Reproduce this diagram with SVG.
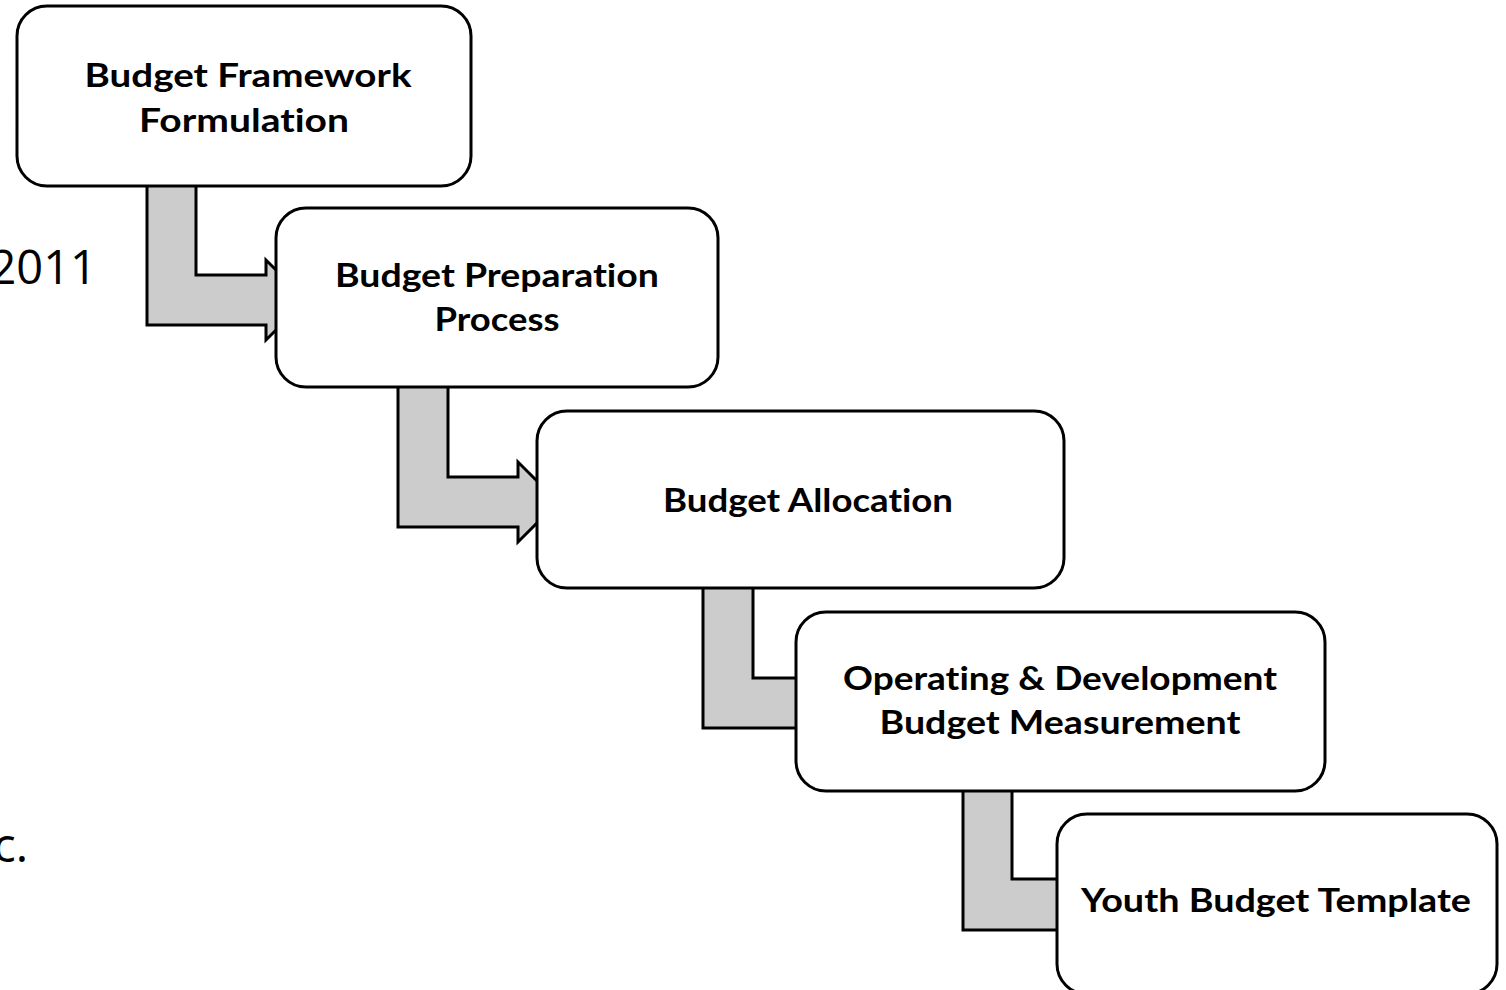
<svg xmlns="http://www.w3.org/2000/svg" width="1506" height="990" viewBox="0 0 1506 990">
<style>
.box{fill:#ffffff;stroke:#000000;stroke-width:3}
.arr{fill:#cccccc;stroke:#000000;stroke-width:3;stroke-linejoin:miter}
.lbl{font-family:Lato,"Open Sans","Liberation Sans",sans-serif;font-weight:bold;font-size:33px;fill:#000000;text-anchor:middle;font-variant-ligatures:none;font-feature-settings:"liga" 0,"dlig" 0}
.side{font-family:"Open Sans",Lato,"Liberation Sans",sans-serif;font-size:47px;fill:#000000;text-anchor:end}
</style>
<rect width="1506" height="990" fill="#ffffff"/>
<g id="side-text">
<text class="side" x="97" y="284">2011</text>
<text class="side" x="28" y="862">c.</text>
</g>
<g id="connectors">
<path class="arr" d="M147,180 V325 H266 V340 L306,300 L266,260 V275 H196 V180 Z"/>
<path class="arr" d="M398,380 V527 H518 V542 L558,502 L518,462 V477 H448 V380 Z"/>
<path class="arr" d="M703,582 V728 H810 V678 H753 V582 Z"/>
<path class="arr" d="M963,785 V930 H1070 V879 H1012 V785 Z"/>
</g>
<g id="node1">
<rect class="box" x="17" y="6" width="454" height="180" rx="30"/>
<text class="lbl" x="248" y="87" textLength="327" lengthAdjust="spacingAndGlyphs">Budget Framework</text>
<text class="lbl" x="244" y="132" textLength="210" lengthAdjust="spacingAndGlyphs">Formulation</text>
</g>
<g id="node2">
<rect class="box" x="276" y="208" width="442" height="179" rx="30"/>
<text class="lbl" x="497" y="287" textLength="324" lengthAdjust="spacingAndGlyphs">Budget Preparation</text>
<text class="lbl" x="497" y="331" textLength="125" lengthAdjust="spacingAndGlyphs">Process</text>
</g>
<g id="node3">
<rect class="box" x="537" y="411" width="527" height="177" rx="30"/>
<text class="lbl" x="808" y="512" textLength="290" lengthAdjust="spacingAndGlyphs">Budget Allocation</text>
</g>
<g id="node4">
<rect class="box" x="796" y="612" width="529" height="179" rx="30"/>
<text class="lbl" x="1060" y="690" textLength="434" lengthAdjust="spacingAndGlyphs">Operating &amp; Development</text>
<text class="lbl" x="1060" y="734" textLength="361" lengthAdjust="spacingAndGlyphs">Budget Measurement</text>
</g>
<g id="node5">
<rect class="box" x="1057" y="814" width="440" height="180" rx="30"/>
<text class="lbl" x="1276" y="912" textLength="390" lengthAdjust="spacingAndGlyphs">Youth Budget Template</text>
</g>
</svg>
